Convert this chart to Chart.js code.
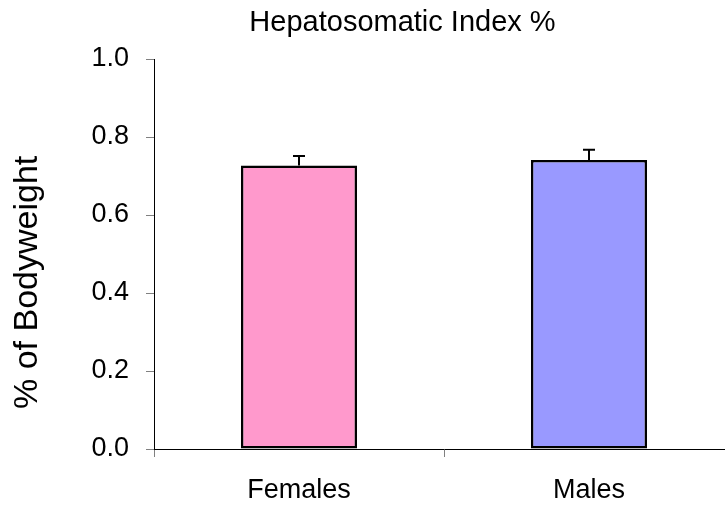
<!DOCTYPE html>
<html>
<head>
<meta charset="utf-8">
<script src="https://cdn.jsdelivr.net/npm/chart.js@4"></script>
<style>
  html, body { margin: 0; padding: 0; overflow: hidden; background: #fff; }
  #chart { display: block; }
</style>
</head>
<body>
<canvas id="chart" width="740" height="506"></canvas>
<script>
// data
var categories = ["Females", "Males"];
var hsiMean = [0.727, 0.741];
var hsiErr = [0.024, 0.026];
var barColors = ["#FF99CC", "#9999FF"];
var yTicks = [0, 0.2, 0.4, 0.6, 0.8, 1.0];

var fontFamily = "'Liberation Sans', Arial, sans-serif";

// draws the error bars (upper side only) from the y scale
var errorBars = {
    id: "errorBars",
    afterDatasetsDraw: function (chart) {
        var ctx = chart.ctx;
        var yScale = chart.scales.y;
        var meta = chart.getDatasetMeta(0);
        ctx.save();
        ctx.strokeStyle = "#000";
        ctx.lineWidth = 2;
        meta.data.forEach(function (bar, i) {
            var top = yScale.getPixelForValue(hsiMean[i] + hsiErr[i]);
            var base = yScale.getPixelForValue(hsiMean[i]);
            ctx.beginPath();
            ctx.moveTo(bar.x, base);
            ctx.lineTo(bar.x, top);
            ctx.moveTo(bar.x - 6, top);
            ctx.lineTo(bar.x + 6, top);
            ctx.stroke();
        });
        ctx.restore();
    }
};

var ctx = document.getElementById("chart").getContext("2d");
var hsiChart = new Chart(ctx, {
    type: "bar",
    data: {
        labels: categories,
        datasets: [{
            label: "Hepatosomatic Index %",
            data: hsiMean,
            backgroundColor: barColors,
            borderColor: "#000",
            borderWidth: 2.5,
            borderSkipped: false,
            barPercentage: 0.40,
            categoryPercentage: 1.0
        }]
    },
    options: {
        responsive: false,
        animation: false,
        layout: { padding: { left: 71, right: 6, top: 0, bottom: 0 } },
        plugins: {
            legend: { display: false },
            tooltip: { enabled: false },
            title: {
                display: true,
                text: "Hepatosomatic Index %",
                color: "#000",
                font: { family: fontFamily, size: 29, weight: "normal" },
                padding: { top: 5.5, bottom: 18.7 }
            }
        },
        scales: {
            x: {
                grid: { drawOnChartArea: false, tickLength: 8, tickColor: "#808080", offset: true },
                border: { color: "#000", width: 1 },
                ticks: { color: "#000", padding: 17, font: { family: fontFamily, size: 27 } },
                afterFit: function (scale) { scale.height = 57; }
            },
            y: {
                min: 0,
                max: 1,
                afterBuildTicks: function (scale) {
                    scale.ticks = yTicks.map(function (v) { return { value: v }; });
                },
                grid: { drawOnChartArea: false, tickLength: 8, tickColor: "#808080" },
                border: { color: "#000", width: 1 },
                ticks: {
                    color: "#000",
                    padding: 17,
                    font: { family: fontFamily, size: 27 },
                    callback: function (v) { return Number(v).toFixed(1); }
                },
                title: {
                    display: true,
                    text: "% of Bodyweight      ",
                    color: "#000",
                    font: { family: fontFamily, size: 34 },
                    padding: { top: -63.4, bottom: 0 }
                },
                afterFit: function (scale) { scale.width = 83; }
            }
        }
    },
    plugins: [errorBars]
});
</script>
</body>
</html>
